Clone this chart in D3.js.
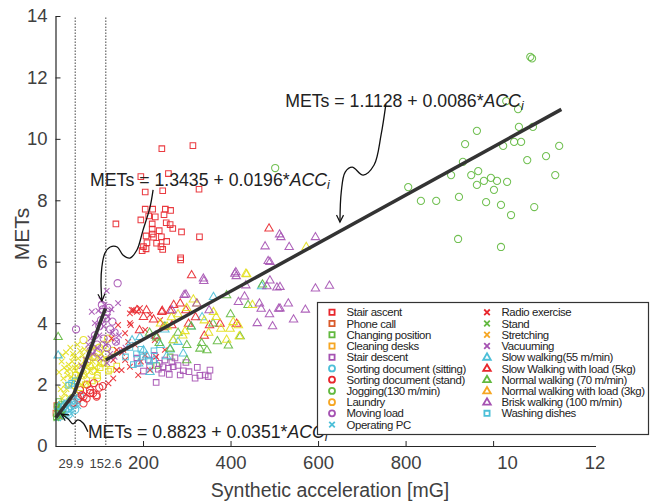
<!DOCTYPE html>
<html>
<head>
<meta charset="utf-8">
<script src="https://cdn.jsdelivr.net/npm/d3@7"></script>
<style>
  body { margin: 0; background: #fff; }
  svg { display: block; }
  text { font-family: "Liberation Sans", Arial, sans-serif; }
</style>
</head>
<body>
<svg id="chart" width="654" height="504"></svg>
<script>
// ---- data: [acceleration mG, METs] ----
var stairAscent = [[243,9.68],[314,9.78],[195,8.77],[258,8.87],[328,8.36],[205,8.27],[245,8.31],[205,7.71],[222,7.71],[251,7.71],[263,7.67],[195,7.36],[213,7.49],[228,7.46],[248,7.53],[221,7.23],[253,7.27],[262,7.21],[268,7.08],[221,7.06],[237,7.01],[221,6.90],[288,6.97],[207,6.84],[224,6.80],[242,6.81],[254,6.66],[329,6.81],[209,6.62],[231,6.60],[201,6.49],[207,6.42],[241,6.49],[198,6.36],[245,6.40],[286,6.13],[138,7.23],[286,6.06]];
var phoneCall = [[1,1.07],[5,1.2],[9,0.98],[13,1.15],[3,1.32],[17,1.05]];
var changingPosition = [[2,0.95],[6,1.12],[4,1.28],[10,1.02],[13,1.35],[231,2.62],[262,2.9],[8,1.45]];
var cleaningDesks = [[121,2.44],[126,2.5],[96,2.3],[84,2.12],[111,2.7],[68,2.0],[57,1.9],[140,2.6],[45,2.3],[102,2.55]];
var stairDescent = [[187,2.69],[201,2.44],[212,2.80],[237,2.69],[246,2.58],[258,2.53],[269,2.58],[243,2.37],[285,2.31],[230,2.07],[292,2.45],[324,2.56],[353,2.47],[330,2.30],[349,2.26],[250,2.80],[273,2.87],[186,2.86],[266,2.74],[342,2.31],[319,2.21],[226,2.95],[280,2.62],[298,2.72],[215,2.60],[305,2.42],[260,2.33],[235,2.50]];
var sortingSitting = [[8,0.95],[15,1.05],[22,1.15],[28,1.22],[35,1.3],[42,1.4],[18,1.28],[50,1.5],[30,1.02],[45,1.18],[56,1.62],[12,1.1],[38,1.55],[25,1.38]];
var sortingStand = [[41,1.41],[56,1.82],[60,1.66],[64,1.39],[64,1.61],[71,1.55],[79,1.82],[79,1.72],[86,1.72],[94,1.61],[94,1.66],[100,1.9],[72,2.0],[88,2.05],[52,1.55],[108,1.95]];
var jogging = [[1085,12.67],[1089,12.62],[1030,11.23],[1057,10.97],[963,10.26],[1059,10.39],[1091,10.39],[936,9.83],[1023,9.77],[1048,9.90],[1064,9.90],[1151,9.77],[1121,9.44],[1078,9.31],[931,9.25],[966,8.95],[904,8.82],[950,8.82],[963,8.50],[979,8.63],[995,8.73],[1009,8.63],[1032,8.60],[1002,8.34],[1142,8.82],[922,8.11],[984,7.94],[1018,7.85],[1041,7.52],[1094,7.78],[920,6.74],[1018,6.48],[806,8.43],[835,7.98],[870,7.98],[502,9.05]];
var laundry = [[64,2.3],[78,2.6],[90,2.9],[100,3.2],[110,3.3],[120,3.5],[85,2.45],[105,2.7],[130,3.1],[64,3.45],[72,2.75],[115,3.0],[95,2.2]];
var movingLoad = [[47,3.80],[142,5.30],[106,4.59],[117,4.37],[108,4.45],[115,4.15],[100,3.9],[90,3.6],[125,3.8],[130,4.05],[95,3.3],[110,3.5],[80,3.1],[138,3.4],[104,4.1],[118,3.2],[85,2.9],[122,4.5],[98,3.05],[135,3.7]];
var operatingPC = [[6,0.9],[12,1.0],[20,1.1],[27,1.25],[33,1.35],[40,1.2],[16,1.2],[48,1.45],[25,0.95],[36,1.05],[44,1.6],[52,1.3]];
var radioExercise = [[170,4.32],[186,4.37],[170,4.0],[159,3.67],[140,3.13],[132,2.8],[132,2.2],[151,2.47],[170,2.58],[140,2.47],[121,2.04],[193,4.49],[216,4.27],[239,4.10],[205,3.78],[227,3.45],[182,3.29],[250,3.13],[205,2.96],[159,2.8],[189,2.31],[216,2.47],[152,3.03],[166,3.39],[143,3.94],[174,4.43],[172,3.94],[178,4.43],[155,3.13],[128,3.5],[195,2.75],[230,2.9]];
var stand = [[2,0.9],[5,1.0],[8,1.1],[3,1.2],[11,0.95],[14,1.15],[7,1.3],[17,1.05]];
var stretching = [[15,1.55],[20,1.7],[25,1.85],[30,1.6],[35,1.95],[40,2.1],[45,1.8],[50,2.2],[55,2.35],[60,2.0],[65,2.5],[70,2.3],[75,2.6],[80,2.45],[85,2.75],[90,2.55],[95,2.9],[100,2.7],[22,2.0],[28,2.3],[33,2.5],[38,2.75],[42,2.9],[48,2.6],[52,2.85],[58,2.65],[62,2.95],[18,2.2],[26,2.45],[68,2.8],[105,3.0],[112,2.85],[36,2.25],[46,2.45],[12,1.85],[30,2.65],[78,3.05],[88,3.2],[56,3.1],[20,2.55],[40,3.0],[95,2.45],[14,2.75],[24,3.05],[34,3.2],[8,2.4],[50,3.3],[66,3.15],[82,2.9],[60,2.3],[72,2.05],[44,2.55],[16,2.95]];
var vacuuming = [[117,5.05],[105,4.75],[112,4.6],[98,4.4],[83,4.37],[120,4.2],[90,4.0],[110,3.9],[130,3.7],[80,3.5],[100,3.6],[140,3.4],[95,3.2],[115,3.3],[125,3.0],[85,3.0],[70,2.8],[135,2.9],[150,3.1],[75,3.3],[145,3.6],[118,2.7],[60,2.6],[160,3.2],[103,2.85],[143,4.65],[128,4.45]];
var slowWalking = [[6,2.96],[175,3.45],[201,3.13],[208,2.96],[216,2.42],[262,3.15],[292,3.02],[254,2.93],[361,4.86],[471,5.21],[193,3.56],[269,3.45],[240,3.3],[228,3.6],[280,3.4],[250,3.8],[310,3.9],[335,4.2],[190,2.7],[225,2.8],[8,1.3],[20,1.35],[30,1.45]];
var slowWalkingLoad = [[488,7.09],[311,5.57],[186,4.43],[208,4.43],[244,4.41],[285,4.65],[298,4.43],[201,4.21],[224,4.13],[192,3.78],[246,3.88],[266,3.94],[304,3.99],[352,3.94],[376,3.99],[414,3.99],[243,4.37],[262,4.41],[270,4.6],[320,4.2],[230,3.6],[340,3.6]];
var normalWalking = [[6,3.56],[391,4.92],[473,5.27],[334,3.36],[330,3.18],[346,3.13],[370,3.42],[395,3.28],[422,3.58],[300,2.80],[262,3.18],[237,3.36],[231,3.54],[280,3.7],[310,3.9],[360,4.0],[250,3.9],[215,3.7],[400,4.3],[440,4.6],[300,3.3]];
var normalWalkingLoad = [[573,6.49],[435,5.62],[437,5.60],[315,4.78],[323,4.65],[361,4.37],[367,4.21],[399,3.83],[378,3.83],[406,4.05],[418,3.94],[420,3.58],[391,3.47],[296,3.75],[291,3.61],[269,3.45],[255,3.9],[280,4.3],[340,4.1],[300,4.5],[350,3.7],[450,4.6],[240,4.0],[265,4.2]];
var briskWalking = [[512,6.90],[515,6.81],[594,6.81],[534,6.49],[490,6.00],[490,5.40],[513,5.19],[594,5.14],[626,5.23],[513,4.49],[532,4.65],[571,4.45],[544,4.13],[496,3.91],[479,6.51],[486,6.03],[412,5.67],[338,5.46],[410,5.62],[413,5.54],[339,5.38],[435,5.24],[483,5.21],[506,5.17],[294,4.93],[432,4.88],[418,4.70],[466,4.65],[470,4.48],[489,4.30],[510,4.48],[461,4.01],[266,4.43],[323,4.65],[351,4.43],[298,4.94]];
var washingDishes = [[37,2.04],[30,1.98],[45,2.12],[170,3.21],[185,3.0],[200,2.9],[215,2.75],[195,3.15],[178,2.65],[225,3.1],[160,2.9]];

var categories = ["Stair ascent","Phone call","Changing position","Cleaning desks","Stair descent",
  "Sorting document (sitting)","Sorting document (stand)","Jogging(130 m/min)","Laundry","Moving load",
  "Operating PC","Radio exercise","Stand","Stretching","Vacuuming","Slow walking(55 m/min)",
  "Slow Walking with load (5kg)","Normal walking (70 m/min)","Normal walking with load (3kg)",
  "Brisk walking (100 m/min)","Washing dishes"];
var seriesData = [stairAscent, phoneCall, changingPosition, cleaningDesks, stairDescent,
  sortingSitting, sortingStand, jogging, laundry, movingLoad, operatingPC, radioExercise, stand,
  stretching, vacuuming, slowWalking, slowWalkingLoad, normalWalking, normalWalkingLoad,
  briskWalking, washingDishes];
var shapes = ["square","square","square","square","square","circle","circle","circle","circle","circle",
  "x","x","x","x","x","triangle","triangle","triangle","triangle","triangle","square"];

// regression segments and breakpoints (as drawn)
var fitSegments = [[[1,0.93],[42,1.70]], [[42,1.70],[114,4.48]], [[115,2.80],[1156,10.96]]];
var breakLabels = ["29.9", "152.6"];
var breakAt = [45, 115];

var yTicks = [0,2,4,6,8,10,12,14];
var xTicks = [200,400,600,800,1000,1200];
var xTickText = ["200","400","600","800","10","12"];

// colours
var red = "#e8262c", brick = "#d95a2b", green = "#62b93f", yellow = "#e3df1c",
    orange = "#f6a623", purple = "#a552b2", cyan = "#4cbfd8";
var plotColors = [red, brick, green, yellow, purple, cyan, red, green, yellow, purple,
  cyan, red, green, yellow, purple, cyan, red, green, yellow, purple, cyan];
var legendColors = [red, brick, green, orange, purple, cyan, red, green, orange, purple,
  cyan, red, green, orange, purple, cyan, red, green, orange, purple, cyan];

var svg = d3.select("#chart");
var x = d3.scaleLinear().domain([0, 1234]).range([55.5, 595.5]);
var y = d3.scaleLinear().domain([0, 14]).range([446, 16]);

function markerPath(shape, s) {
  if (shape === "square") return "M" + (-s) + "," + (-s) + "h" + (2*s) + "v" + (2*s) + "h" + (-2*s) + "Z";
  if (shape === "triangle") return "M0," + (-s*1.1) + "L" + (s*1.05) + "," + (s*0.7) + "L" + (-s*1.05) + "," + (s*0.7) + "Z";
  if (shape === "x") return "M" + (-s) + "," + (-s) + "L" + s + "," + s + "M" + (-s) + "," + s + "L" + s + "," + (-s);
  var p = d3.path(); p.arc(0, 0, s, 0, 2*Math.PI); p.closePath(); return p.toString();
}
var plotSize = { square: 2.8, circle: 3.6, triangle: 4.0, x: 2.8 };
var legendSize = { square: 2.6, circle: 3.0, triangle: 3.6, x: 2.8 };

// dotted breakpoint lines
svg.selectAll(".brk").data(breakAt).enter().append("line")
  .attr("x1", function(d){ return x(d); }).attr("x2", function(d){ return x(d); })
  .attr("y1", y(13.95)).attr("y2", y(0))
  .attr("stroke", "#222").attr("stroke-width", 1).attr("stroke-dasharray", "1.3,1.7");

// scatter
seriesData.forEach(function(pts, i) {
  svg.append("g").selectAll("path").data(pts).enter().append("path")
    .attr("d", markerPath(shapes[i], plotSize[shapes[i]]))
    .attr("transform", function(d){ return "translate(" + x(d[0]) + "," + y(d[1]) + ")"; })
    .attr("fill", "none").attr("stroke", plotColors[i]).attr("stroke-width", 1.05)
    .attr("opacity", 0.9);
});

// fit lines
var line = d3.line().x(function(d){ return x(d[0]); }).y(function(d){ return y(d[1]); });
svg.selectAll(".fit").data(fitSegments).enter().append("path")
  .attr("d", line).attr("fill", "none").attr("stroke", "#333").attr("stroke-width", 3.5);

// axes
var yAxis = d3.axisLeft(y).tickValues(yTicks).tickSize(-5).tickSizeOuter(0).tickPadding(8);
var gy = svg.append("g").attr("transform", "translate(" + x(0) + ",0)").call(yAxis);
var xAxis = d3.axisBottom(x).tickValues(xTicks).tickSize(-5).tickSizeOuter(0).tickPadding(10)
  .tickFormat(function(d, i){ return xTickText[i]; });
var gx = svg.append("g").attr("transform", "translate(0," + y(0) + ")").call(xAxis);
[gx, gy].forEach(function(g) {
  g.select(".domain").attr("stroke", "#262626").attr("stroke-width", 1.2);
  g.selectAll(".tick line").attr("stroke", "#262626");
  g.selectAll(".tick text").attr("fill", "#404040").attr("font-size", 18.5)
    .attr("font-family", "Liberation Sans, Arial, sans-serif");
});
gx.selectAll(".tick text").attr("dx", function(d){ return d >= 1000 ? 14 : 0; });
gx.selectAll(".tick line").filter(function(d){ return d === 1200; }).remove();

svg.selectAll(".brkLabel").data(breakLabels).enter().append("text")
  .attr("x", function(d, i){ return x(breakAt[i]) - (i === 0 ? 4 : 0); })
  .attr("y", y(0) + 22).attr("text-anchor", "middle")
  .attr("font-size", 13).attr("fill", "#404040").text(function(d){ return d; });

svg.append("text").attr("x", 330).attr("y", 497).attr("text-anchor", "middle")
  .attr("font-size", 19.5).attr("fill", "#404040").text("Synthetic acceleration [mG]");
svg.append("text").attr("transform", "translate(29," + y(6.9) + ") rotate(-90)")
  .attr("text-anchor", "middle").attr("font-size", 21).attr("fill", "#404040").text("METs");

// equations
var equations = [
  { pos: [525, 11.04], text: "METs = 1.1128 + 0.0086*" },
  { pos: [79, 8.47], text: "METs = 1.3435 + 0.0196*" },
  { pos: [74, 0.26], text: "METs = 0.8823 + 0.0351*" }
];
equations.forEach(function(e) {
  var t = svg.append("text").attr("x", x(e.pos[0])).attr("y", y(e.pos[1]))
    .attr("font-size", 17.7).attr("fill", "#222");
  t.append("tspan").text(e.text);
  t.append("tspan").attr("font-style", "italic").text("ACC");
  t.append("tspan").attr("font-style", "italic").attr("font-size", 12.5).attr("dy", 3).text("i");
});

// curly arrows
svg.append("defs").append("marker").attr("id", "ah")
  .attr("viewBox", "-8 -5 10 10").attr("refX", 0).attr("refY", 0)
  .attr("markerWidth", 10).attr("markerHeight", 10).attr("markerUnits", "userSpaceOnUse")
  .attr("orient", "auto")
  .append("path").attr("d", "M-7,-3.5L0,0L-7,3.5").attr("fill", "none")
  .attr("stroke", "#111").attr("stroke-width", 1.2);

var arrows = [
  [[755,11.13],[744,10.13],[728,9.15],[703,8.82],[678,9.08],[662,8.92],[653,8.27],[650,7.29]],
  [[223,8.34],[216,7.78],[200,7.03],[186,6.38],[170,6.12],[154,6.22],[141,6.48],[125,6.48],[113,6.28],[106,5.83],[104,5.34],[106,4.72]],
  [[74,0.46],[63,0.75],[51,0.85],[40,0.72],[29,0.88],[13,1.04]]
];
var curvy = d3.line().x(function(d){ return x(d[0]); }).y(function(d){ return y(d[1]); })
  .curve(d3.curveCatmullRom.alpha(0.5));
svg.selectAll(".arrow").data(arrows).enter().append("path")
  .attr("d", curvy).attr("fill", "none").attr("stroke", "#111").attr("stroke-width", 1.3)
  .attr("marker-end", "url(#ah)");

// legend
var legend = svg.append("g");
legend.append("rect").attr("x", 317.5).attr("y", 302.5).attr("width", 331).attr("height", 132)
  .attr("fill", "#fff").attr("stroke", "#333").attr("stroke-width", 1.2);
categories.forEach(function(name, i) {
  var col = i < 11 ? 0 : 1, row = i < 11 ? i : i - 11;
  var mx = col === 0 ? 332 : 487, ty = 312.3 + row * 11.23;
  legend.append("path").attr("d", markerPath(shapes[i], legendSize[shapes[i]]))
    .attr("transform", "translate(" + mx + "," + ty + ")")
    .attr("fill", "none").attr("stroke", legendColors[i]).attr("stroke-width", 1.8);
  legend.append("text").attr("x", mx + 14.5).attr("y", ty).attr("dy", "0.36em")
    .attr("font-size", 11.4).attr("letter-spacing", -0.4).attr("fill", "#222").text(name);
});
</script>
</body>
</html>
